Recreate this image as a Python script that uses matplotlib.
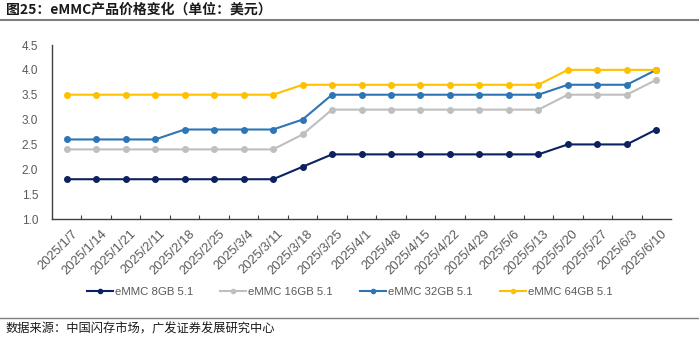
import matplotlib
matplotlib.use("Agg")
import matplotlib.pyplot as plt
from matplotlib.lines import Line2D

plt.rcParams['font.family'] = ['Liberation Sans', 'Noto Sans CJK SC', 'DejaVu Sans']

dates = ["2025/1/7", "2025/1/14", "2025/1/21", "2025/2/11", "2025/2/18", "2025/2/25",
         "2025/3/4", "2025/3/11", "2025/3/18", "2025/3/25", "2025/4/1", "2025/4/8",
         "2025/4/15", "2025/4/22", "2025/4/29", "2025/5/6", "2025/5/13", "2025/5/20",
         "2025/5/27", "2025/6/3", "2025/6/10"]
emmc_8gb = [1.8, 1.8, 1.8, 1.8, 1.8, 1.8, 1.8, 1.8, 2.05, 2.3, 2.3, 2.3, 2.3, 2.3, 2.3, 2.3, 2.3, 2.5, 2.5, 2.5, 2.8]
emmc_16gb = [2.4, 2.4, 2.4, 2.4, 2.4, 2.4, 2.4, 2.4, 2.7, 3.2, 3.2, 3.2, 3.2, 3.2, 3.2, 3.2, 3.2, 3.5, 3.5, 3.5, 3.8]
emmc_32gb = [2.6, 2.6, 2.6, 2.6, 2.8, 2.8, 2.8, 2.8, 3.0, 3.5, 3.5, 3.5, 3.5, 3.5, 3.5, 3.5, 3.5, 3.7, 3.7, 3.7, 4.0]
emmc_64gb = [3.5, 3.5, 3.5, 3.5, 3.5, 3.5, 3.5, 3.5, 3.7, 3.7, 3.7, 3.7, 3.7, 3.7, 3.7, 3.7, 3.7, 4.0, 4.0, 4.0, 4.0]
series_names = ["eMMC 8GB 5.1", "eMMC 16GB 5.1", "eMMC 32GB 5.1", "eMMC 64GB 5.1"]
colors = ["#0b2160", "#bfbfbf", "#2e75b6", "#ffc000"]
yticks = [1.0, 1.5, 2.0, 2.5, 3.0, 3.5, 4.0, 4.5]

fig = plt.figure(figsize=(6.99, 3.40), dpi=100)
ax = fig.add_axes([52/699, 1 - 219/340, (671-52)/699, (219-45)/340])

x = list(range(len(dates)))
for vals, c, name in zip([emmc_8gb, emmc_16gb, emmc_32gb, emmc_64gb], colors, series_names):
    ax.plot(x, vals, color=c, lw=1.5, marker='o', ms=4, label=name)

ax.set_xlim(-0.5, len(dates) - 0.5)
ax.set_ylim(1.0, 4.5)
ax.set_yticks(yticks)
ax.set_yticklabels([f"{v:.1f}" for v in yticks], color="#595959", fontsize=8.5)
ax.tick_params(axis='y', length=0, pad=10)
ax.set_xticks([i + 0.5 for i in x[:-1]], minor=False)
ax.set_xticklabels([])
ax.tick_params(axis='x', which='major', direction='in', length=3, color='#404040')
for i, d in enumerate(dates):
    ax.text(i + 0.15, -0.05, d, rotation=45, ha='right', va='top', rotation_mode='anchor',
            transform=ax.get_xaxis_transform(), fontsize=9.3, color="#595959")
for s in ['top', 'right']:
    ax.spines[s].set_visible(False)
ax.spines['left'].set_color('#404040')
ax.spines['bottom'].set_color('#404040')
ax.spines['left'].set_linewidth(1.0)
ax.spines['bottom'].set_linewidth(1.0)

handles = [Line2D([0], [0], color=c, lw=1.5, marker='o', ms=3) for c in colors]
fig.legend(handles, series_names, loc='center', bbox_to_anchor=(0.5, 1 - 292/340), ncol=4,
           frameon=False, fontsize=8.2, handlelength=2.3, columnspacing=2.4, handletextpad=0.15,
           labelcolor="#595959")

fig.text(6/699, 1 - 10/340, "图25：eMMC产品价格变化（单位：美元）", fontsize=10, fontweight='bold',
         va='center', ha='left', color="#1a1a1a", family=['Noto Sans CJK SC', 'DejaVu Sans'])
fig.add_artist(Line2D([0, 1], [1 - 20/340, 1 - 20/340], color='#7f7f7f', lw=1.5, transform=fig.transFigure))
fig.add_artist(Line2D([0, 1], [1 - 318/340, 1 - 318/340], color='#7f7f7f', lw=1.0, transform=fig.transFigure))
fig.text(6/699, 1 - 329/340, "数据来源：中国闪存市场，广发证券发展研究中心", fontsize=8.8,
         va='center', ha='left', color="#1a1a1a", family=['Noto Sans CJK SC', 'DejaVu Sans'])

fig.savefig("out.png", dpi=100)
